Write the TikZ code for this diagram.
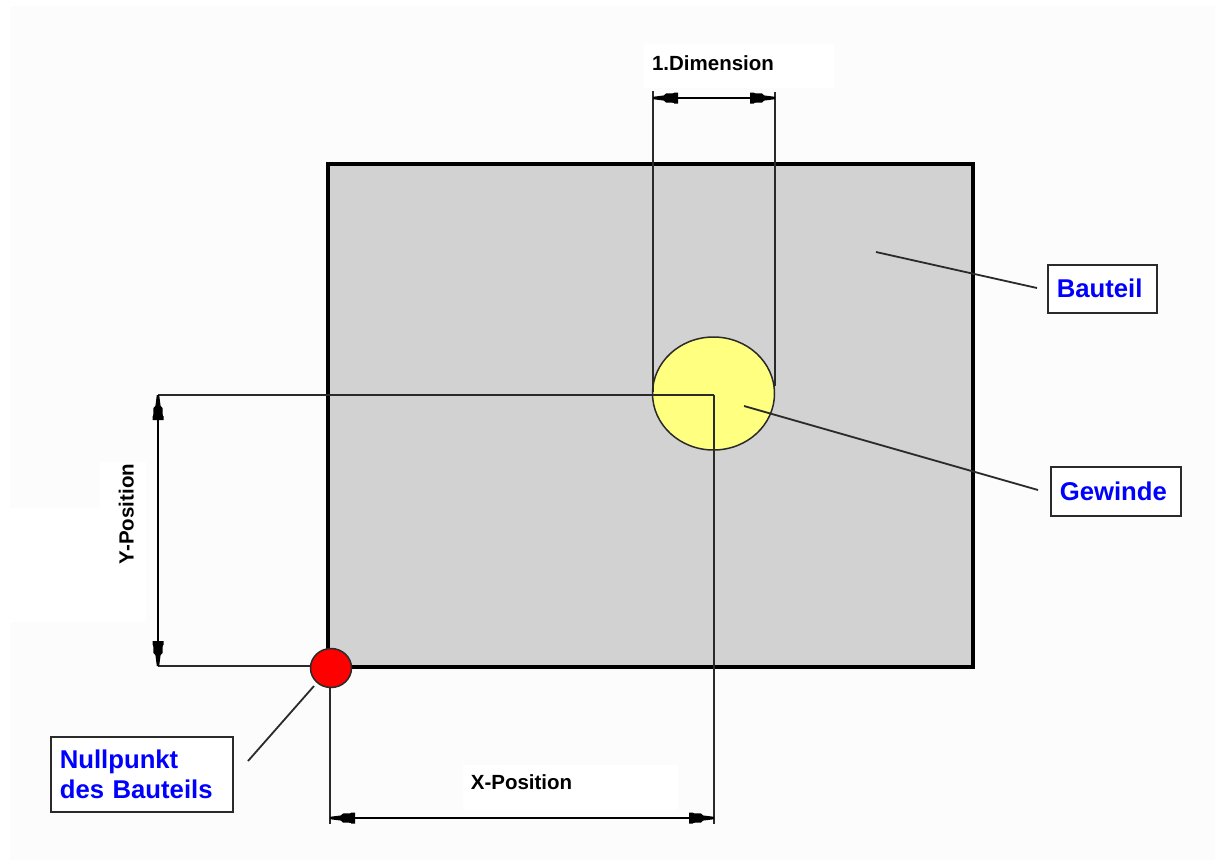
\documentclass[tikz,border=0pt]{standalone}
\usepackage{fontspec}
\usetikzlibrary{shapes.geometric}
\setmainfont{Liberation Sans}
\definecolor{pagebg}{HTML}{FCFCFC}
\definecolor{partgray}{HTML}{D2D2D2}
\definecolor{threadyellow}{HTML}{FFFF80}
\definecolor{darkline}{HTML}{2A2A2A}
\pgfdeclarearrow{
  name=DimTip,
  setup code={
    \pgfarrowssettipend{0pt}
    \pgfarrowssetlineend{-20pt}
    \pgfarrowssetvisualbackend{-24pt}
    \pgfarrowssetbackend{-25pt}
    \pgfarrowshullpoint{0pt}{2pt}
    \pgfarrowshullpoint{0pt}{-2pt}
    \pgfarrowshullpoint{-25pt}{5.5pt}
    \pgfarrowshullpoint{-25pt}{-5.5pt}
  },
  drawing code={
    \pgfpathmoveto{\pgfqpoint{0pt}{1.2pt}}
    \pgfpathlineto{\pgfqpoint{-11pt}{2.6pt}}
    \pgfpathlineto{\pgfqpoint{-13pt}{4.5pt}}
    \pgfpathlineto{\pgfqpoint{-21pt}{4.8pt}}
    \pgfpathlineto{\pgfqpoint{-21pt}{5.5pt}}
    \pgfpathlineto{\pgfqpoint{-25pt}{5.5pt}}
    \pgfpathlineto{\pgfqpoint{-25pt}{-5.5pt}}
    \pgfpathlineto{\pgfqpoint{-21pt}{-5.5pt}}
    \pgfpathlineto{\pgfqpoint{-21pt}{-4.8pt}}
    \pgfpathlineto{\pgfqpoint{-13pt}{-4.5pt}}
    \pgfpathlineto{\pgfqpoint{-11pt}{-2.6pt}}
    \pgfpathlineto{\pgfqpoint{0pt}{-1.2pt}}
    \pgfpathclose
    \pgfusepathqfill
  },
  defaults={}
}
\tikzset{
  thinline/.style={draw=darkline,line width=1.8pt},
  dimline/.style={draw=black,line width=1.8pt,{DimTip}-{DimTip}},
  callout/.style={draw=darkline,line width=1.6pt,fill=white,text=blue,font=\bfseries\fontsize{25.7}{30.5}\selectfont,inner ysep=0pt,inner xsep=9pt,align=left,anchor=north west},
  dimlabel/.style={text=black,font=\bfseries\fontsize{20.5}{24}\selectfont,inner sep=0pt,text height=15pt,text depth=0pt},
  patch/.style={fill=white,draw=none}
}
\begin{document}
\begin{tikzpicture}[x=1pt,y=-1pt]
\useasboundingbox (0,0) rectangle (1215,863);
\fill[white] (0,0) rectangle (1215,863);
\fill[pagebg] (10,6) rectangle (1215,860);
% pale label backings
\fill[patch] (644,44) rectangle (834,88);
\fill[patch] (463,765) rectangle (678,810);
\fill[patch] (100,462) rectangle (146,622);
\fill[patch] (10,508) rectangle (100,622);
% part
\node[draw=black,line width=4pt,fill=partgray,minimum width=645pt,minimum height=503pt,inner sep=0pt,anchor=north west] (part) at (326,161.5) {};
% thread
\node[draw=darkline,line width=1.5pt,fill=threadyellow,ellipse,minimum width=122pt,minimum height=113pt,inner sep=0pt] (thread) at (713.5,393.5) {};
\coordinate (center) at (714,395);
\node[draw=darkline,line width=1.5pt,fill=red,ellipse,minimum width=41pt,minimum height=39pt,inner sep=0pt] (origin) at (331,668) {};
% reference coordinates
\coordinate (dimL) at (653,98);
\coordinate (dimR) at (775,98);
\coordinate (dimLtop) at (653,91);
\coordinate (dimRtop) at (775,92);
\coordinate (dimLbot) at (653,392);
\coordinate (dimRbot) at (775,386);
\coordinate (yTop) at (158,395);
\coordinate (yBot) at (158,666);
\coordinate (xLeft) at (330,818);
\coordinate (xRight) at (714,818);
\coordinate (xLeftEnd) at (330,824);
\coordinate (xRightEnd) at (714,824);
\coordinate (partPt) at (876,252);
\coordinate (threadPt) at (744,406);
% extension lines
\draw[thinline] (dimLtop) -- (dimLbot);
\draw[thinline] (dimRtop) -- (dimRbot);
\draw[thinline] (yTop) -- (center);
\draw[thinline] (center) -- (xRightEnd);
\draw[thinline] (yBot) -- (origin.west |- yBot);
\draw[thinline] (origin.south -| xLeft) -- (xLeftEnd);
% dimension lines
\draw[dimline] (dimL) -- (dimR);
\draw[dimline] (yTop) -- (yBot);
\draw[dimline] (xLeft) -- (xRight);
% dimension labels
\node[dimlabel] (labD) at (713,63) {1.Dimension};
\node[dimlabel] (labX) at (521.5,782) {X-Position};
\node[dimlabel,rotate=90] (labY) at (126,514) {Y-Position};
% callouts
\node[callout,minimum height=48pt,text width=91pt] (bauteil) at (1047,264) {Bauteil};
\node[callout,minimum height=49pt,text width=112pt] (gewinde) at (1050,466) {Gewinde};
\node[callout,minimum height=75pt,text width=164pt] (nullbox) at (50,736) {Nullpunkt\\des Bauteils};
% leaders
\coordinate (bauteilEnd) at (1037,288);
\coordinate (gewindeEnd) at (1038,490);
\coordinate (nullA) at (314,686);
\coordinate (nullB) at (248,761);
\draw[thinline] (partPt) -- (bauteilEnd);
\draw[thinline] (threadPt) -- (gewindeEnd);
\draw[thinline] (nullA) -- (nullB);
\end{tikzpicture}
\end{document}
